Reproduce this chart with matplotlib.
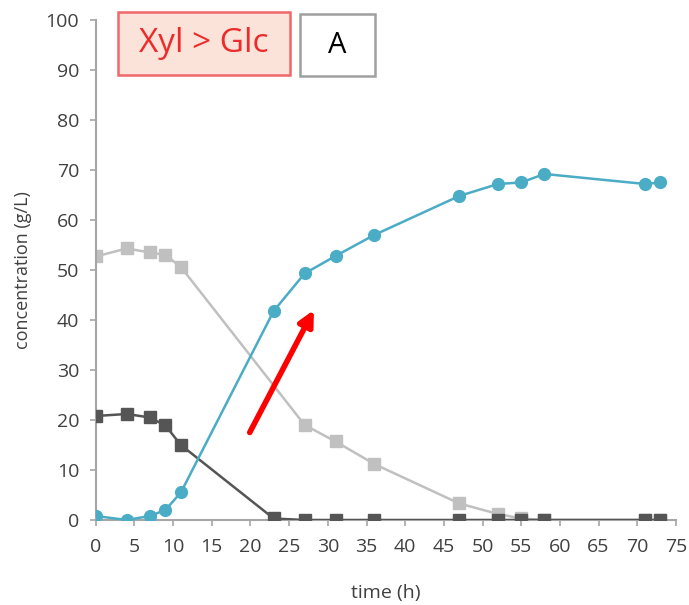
import numpy as np
import matplotlib
matplotlib.use('Agg')
from matplotlib import pyplot as plt
from matplotlib.patches import Rectangle

# time points (h)
time_h = [0, 4, 7, 9, 11, 23, 27, 31, 36, 47, 52, 55, 58, 71, 73]

# product (blue circles)
product = [0.8, 0.0, 0.8, 2.0, 5.5, 41.8, 49.3, 52.8, 57.0, 64.8, 67.2, 67.5, 69.2, 67.2, 67.5]

# xylose (light grey squares), no sample drawn at 23 h
xyl_time = [0, 4, 7, 9, 11, 27, 31, 36, 47, 52, 55, 58, 71, 73]
xylose = [52.7, 54.3, 53.5, 53.0, 50.6, 19.0, 15.7, 11.2, 3.3, 1.2, 0.3, 0.0, 0.0, 0.0]

# glucose (dark grey squares)
glucose = [20.8, 21.2, 20.5, 18.9, 15.0, 0.3, 0.0, 0.0, 0.0, 0.0, 0.0, 0.0, 0.0, 0.0, 0.0]

arrow_start = (19.9, 17.5)
arrow_end = (28.2, 42.0)

plt.rcParams['font.family'] = ['Open Sans', 'DejaVu Sans']
txt = '#404040'
axc = '#a6a6a6'

fig = plt.figure(figsize=(6.89, 6.05), dpi=100)
ax = fig.add_axes([0.139, 0.1405, 0.842, 0.8265])

ax.plot(xyl_time, xylose, color='#c0c0c0', lw=1.8, marker='s', ms=9, zorder=2)
ax.plot(time_h, glucose, color='#555555', lw=1.8, marker='s', ms=9, zorder=3)
ax.plot(time_h, product, color='#4bacc6', lw=1.8, marker='o', ms=8.5, zorder=4)

ax.annotate('', xy=arrow_end, xytext=arrow_start,
            arrowprops=dict(arrowstyle='-|>,head_length=0.9,head_width=0.45',
                            color='#ff0000', lw=4, shrinkA=0, shrinkB=0), zorder=5)

ax.set_xlim(0, 75)
ax.set_ylim(0, 100)
ax.set_xticks(np.arange(0, 76, 5))
ax.set_yticks(np.arange(0, 101, 10))
for s in ['top', 'right']:
    ax.spines[s].set_visible(False)
for s in ['left', 'bottom']:
    ax.spines[s].set_color(axc)
    ax.spines[s].set_linewidth(1.5)
ax.tick_params(colors=axc, labelcolor=txt, labelsize=14, length=4, width=1.2)
ax.tick_params(axis='x', pad=9)
ax.tick_params(axis='y', pad=8)
ax.set_xlabel('time (h)', color=txt, fontsize=14, labelpad=20)
ax.set_ylabel('concentration (g/L)', color=txt, fontsize=13, labelpad=10)

# label boxes at the top
fig.patches.append(Rectangle((0.171, 0.876), 0.250, 0.104, transform=fig.transFigure,
                             fc='#fbe3da', ec='#f06868', lw=1.8))
fig.text(0.296, 0.928, 'Xyl > Glc', color='#ee2b2b', fontsize=24, ha='center', va='center')
fig.patches.append(Rectangle((0.435, 0.874), 0.109, 0.103, transform=fig.transFigure,
                             fc='white', ec='#a0a0a0', lw=1.8))
fig.text(0.4895, 0.925, 'A', color='black', fontsize=21, ha='center', va='center')

plt.savefig('out.png', dpi=100)
